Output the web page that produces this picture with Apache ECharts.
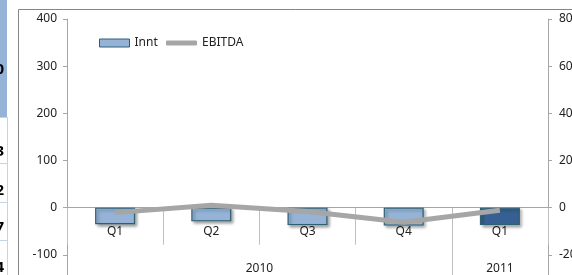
<!DOCTYPE html>
<html>
<head>
<meta charset="utf-8">
<script src="https://cdn.jsdelivr.net/npm/echarts@6/dist/echarts.min.js"></script>
<style>
    html, body { margin: 0; padding: 0; background: #fff; }
    #chart { width: 572px; height: 275px; }
</style>
</head>
<body>
<div id="chart"></div>
<script>
    var quarters = ['Q1', 'Q2', 'Q3', 'Q4', 'Q1'];
    var years = ['2010', '2010', '2010', '2010', '2011'];
    var innt = [-35, -29, -37, -38, -37];
    var ebitda = [-2.1, 1.0, -1.6, -6.2, -1.1];
    var leftTicks = {min: -200, max: 400, interval: 100};
    var rightTicks = {min: -40, max: 80, interval: 20};

    var font = 'Noto Sans';
    var myChart = echarts.init(document.getElementById('chart'));

    var barData = innt.map(function (v, i) {
        var last = i === innt.length - 1;
        return {
            value: v,
            itemStyle: {color: last ? '#376092' : '#95B3D7'}
        };
    });

    var legendText = {fontFamily: font, fontSize: 12, color: '#222'};
    var option = {
        animation: false,
        backgroundColor: '#fff',
        textStyle: {fontFamily: font},
        grid: {left: 67, top: 19, width: 481, height: 283, containLabel: false, outerBoundsMode: 'none'},
        legend: [
            {
                left: 94, top: 32, itemWidth: 30, itemHeight: 8,
                textStyle: legendText,
                data: [{name: 'Innt', icon: 'rect', itemStyle: {color: '#95B3D7', borderColor: '#2E5F73', borderWidth: 1}}]
            },
            {
                left: 161, top: 32, itemWidth: 31, itemHeight: 5,
                textStyle: legendText,
                data: [{name: 'EBITDA', icon: 'roundRect', itemStyle: {color: '#A6A6A6'}}]
            }
        ],
        xAxis: [
            {
                type: 'category',
                data: quarters,
                axisLine: {onZero: true, lineStyle: {color: '#a6a6a6', width: 1}},
                axisTick: {show: true, length: 37, lineStyle: {color: '#bfbfbf'}},
                axisLabel: {show: false},
                splitLine: {show: false}
            },
            {
                // quarter labels, moved up under the zero line below
                type: 'category',
                data: quarters,
                position: 'bottom',
                offset: 0,
                axisLine: {show: false, onZero: false},
                axisTick: {show: false},
                axisLabel: {margin: 18, fontSize: 12, color: '#222', fontFamily: font},
                splitLine: {show: false}
            }
        ],
        yAxis: [
            {
                type: 'value',
                min: leftTicks.min, max: leftTicks.max, interval: leftTicks.interval,
                axisLine: {show: true, lineStyle: {color: '#a6a6a6'}},
                axisTick: {show: true, length: 4, lineStyle: {color: '#a6a6a6'}},
                axisLabel: {margin: 10, fontSize: 12, color: '#222', fontFamily: font},
                splitLine: {show: false}
            },
            {
                type: 'value',
                position: 'right',
                min: rightTicks.min, max: rightTicks.max, interval: rightTicks.interval,
                axisLine: {show: true, lineStyle: {color: '#a6a6a6'}},
                axisTick: {show: true, length: 4, lineStyle: {color: '#a6a6a6'}},
                axisLabel: {margin: 11, fontSize: 12, color: '#222', fontFamily: font},
                splitLine: {show: false}
            }
        ],
        series: [
            {
                name: 'Innt',
                type: 'bar',
                barWidth: 40,
                data: barData,
                itemStyle: {
                    borderColor: '#2E5F73',
                    borderWidth: 1.2,
                    shadowBlur: 3,
                    shadowOffsetX: 2,
                    shadowOffsetY: 2,
                    shadowColor: 'rgba(0,0,0,0.35)'
                }
            },
            {
                name: 'EBITDA',
                type: 'line',
                yAxisIndex: 1,
                data: ebitda,
                symbol: 'none',
                showSymbol: false,
                lineStyle: {color: '#A6A6A6', width: 5},
                itemStyle: {color: '#A6A6A6'}
            }
        ]
    };
    myChart.setOption(option);

    // year labels and the long year separator, placed from the axis scale
    var px = function (i) { return myChart.convertToPixel({xAxisIndex: 0}, i); };
    var y0 = myChart.convertToPixel({yAxisIndex: 0}, 0);
    var yBottom = myChart.convertToPixel({yAxisIndex: 0}, leftTicks.min);
    var groups = [];
    years.forEach(function (y, i) {
        var g = groups[groups.length - 1];
        if (!g || g.name !== y) { groups.push({name: y, first: i, last: i}); }
        else { g.last = i; }
    });
    var elements = [];
    groups.forEach(function (g, k) {
        elements.push({
            type: 'text',
            x: (px(g.first) + px(g.last)) / 2,
            y: y0 + 61,
            style: {text: g.name, fill: '#222', font: '12px "' + font + '"', align: 'center', verticalAlign: 'middle'}
        });
        if (k > 0) {
            var bx = Math.round((px(g.first - 1) + px(g.first)) / 2) + 0.5;
            elements.push({
                type: 'line',
                shape: {x1: bx, y1: y0, x2: bx, y2: 300},
                style: {stroke: '#bfbfbf', lineWidth: 1}
            });
        }
    });

    // chart frame and spreadsheet cells peeking in on the left
    elements.push({type: 'rect', shape: {x: 18.5, y: 9.5, width: 700, height: 400}, style: {fill: null, stroke: '#868686', lineWidth: 1}, z: 10});
    elements.push({type: 'rect', shape: {x: 0, y: 0, width: 7, height: 117}, style: {fill: '#95B3D7'}});
    elements.push({type: 'line', shape: {x1: 7.5, y1: 117, x2: 7.5, y2: 275}, style: {stroke: '#C5D3E6', lineWidth: 1}});
    [117, 163, 202, 240].forEach(function (hy) {
        elements.push({type: 'line', shape: {x1: 0, y1: hy + 0.5, x2: 7, y2: hy + 0.5}, style: {stroke: '#C5D3E6', lineWidth: 1}});
    });
    [['0', 70], ['3', 152], ['2', 191], ['7', 228], ['4', 268]].forEach(function (t) {
        elements.push({
            type: 'text', x: 4, y: t[1],
            style: {text: t[0], fill: '#000', font: 'bold 15px "' + font + '"', align: 'right', verticalAlign: 'middle'}
        });
    });
    myChart.setOption({
        xAxis: [{}, {offset: -(yBottom - y0)}],
        graphic: {elements: elements}
    });
</script>
</body>
</html>
